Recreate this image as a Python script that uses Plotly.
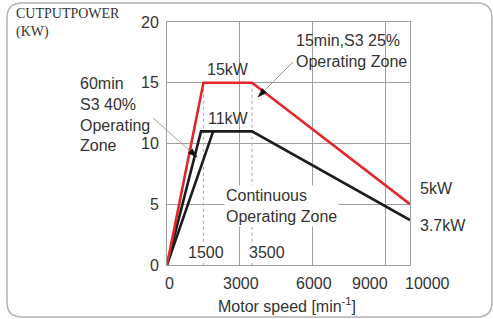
import math
import plotly.graph_objects as go

# ---- data ----
s3_25_speed = [0, 1500, 3500, 10000]
s3_25_power = [0, 15, 15, 5]
cont_speed = [0, 1400, 3500, 10000]
cont_power = [0, 11, 11, 3.7]
s3_40_speed = [0, 1900]
s3_40_power = [0, 11]
ref_speeds = [1500, 3500]
ref_top = 15
y_ticks = [0, 5, 10, 15, 20]
x_grid = [0, 3000, 6000, 9000, 10000]
x_tick_labels = ["0", "3000", "6000", "9000", "10000"]
x_tick_label_px = [169, 241, 314, 370, 427]

FONT = "Liberation Sans, Arial, sans-serif"
TXT = "#333333"
RED = "#e3262b"
BLK = "#1c1c1c"

L, R, T, B = 167, 83, 22, 54
W, H = 493, 319
PW, PH = W - L - R, H - T - B


def px(p):
    return (p - L) / PW


def py(p):
    return (H - B - p) / PH


fig = go.Figure()

for s in ref_speeds:
    fig.add_trace(go.Scatter(x=[s, s], y=[ref_top, 0], mode="lines",
                             line=dict(color="#c4aab0", width=1.2, dash="dot"),
                             hoverinfo="skip", showlegend=False))

fig.add_trace(go.Scatter(x=cont_speed, y=cont_power, mode="lines",
                         line=dict(color=BLK, width=2.6), showlegend=False))
fig.add_trace(go.Scatter(x=s3_40_speed, y=s3_40_power, mode="lines",
                         line=dict(color=BLK, width=2.6), showlegend=False))
fig.add_trace(go.Scatter(x=s3_25_speed, y=s3_25_power, mode="lines",
                         line=dict(color=RED, width=2.6), showlegend=False))

ann = []


def txt(x, y, t, xa="center", bg=None, size=16, family=FONT):
    d = dict(x=px(x), y=py(y), xref="paper", yref="paper", text=t, showarrow=False,
             xanchor=xa, yanchor="middle", align="left",
             font=dict(family=family, size=size, color=TXT))
    if bg:
        d["bgcolor"] = bg
        d["borderpad"] = 1
    ann.append(d)


txt(228, 69, "15kW")
txt(228, 118, "11kW")
txt(78, 114, "60min<br>S3 40%<br>Operating<br>Zone", xa="left")
txt(294, 51, "15min,S3 25%<br>Operating Zone", xa="left")
txt(418, 188, "5kW", xa="left")
txt(418, 225, "3.7kW", xa="left")
txt(224, 206, "Continuous<br>Operating Zone", xa="left", bg="white")
txt(206, 252, "1500", bg="white")
txt(267, 252, "3500", bg="white")
for lab, p in zip(x_tick_labels, x_tick_label_px):
    txt(p, 283, lab)
txt(287, 305, "Motor speed [min<sup>-1</sup>]")
txt(14, 23, "CUTPUTPOWER<br>(KW)", xa="left", size=14,
    family="Liberation Serif, Times New Roman, serif")

shapes = []


def pointer(hx, hy, tx, ty):
    shapes.append(dict(type="line", xref="paper", yref="paper",
                       x0=px(tx), y0=py(ty), x1=px(hx), y1=py(hy),
                       line=dict(color="#8a8a8a", width=0.8)))
    dx, dy = hx - tx, hy - ty
    n = math.hypot(dx, dy)
    ux, uy = dx / n, dy / n
    bx, by = hx - 9 * ux, hy - 9 * uy
    qx, qy = -uy * 3, ux * 3
    p = (f"M {px(hx)},{py(hy)} L {px(bx + qx)},{py(by + qy)} "
         f"L {px(bx - qx)},{py(by - qy)} Z")
    shapes.append(dict(type="path", path=p, xref="paper", yref="paper",
                       fillcolor="#111111", line=dict(color="#111111", width=0.5)))


pointer(197, 157, 153, 118)
pointer(258, 97, 293, 62)

x0, x1, y0, y1, r = 7, 492, 3, 317, 15
path = (f"M {px(x0+r)},{py(y0)} L {px(x1-r)},{py(y0)} Q {px(x1)},{py(y0)} {px(x1)},{py(y0+r)} "
        f"L {px(x1)},{py(y1-r)} Q {px(x1)},{py(y1)} {px(x1-r)},{py(y1)} "
        f"L {px(x0+r)},{py(y1)} Q {px(x0)},{py(y1)} {px(x0)},{py(y1-r)} "
        f"L {px(x0)},{py(y0+r)} Q {px(x0)},{py(y0)} {px(x0+r)},{py(y0)} Z")
shapes.append(dict(type="path", path=path, xref="paper", yref="paper",
                   line=dict(color="#b4b4b4", width=1.5), layer="below"))

fig.update_layout(
    width=W, height=H,
    margin=dict(l=L, r=R, t=T, b=B),
    paper_bgcolor="white", plot_bgcolor="white",
    annotations=ann,
    shapes=shapes,
    xaxis=dict(range=[0, 10000], tickvals=x_grid, showticklabels=False,
               showgrid=True, gridcolor="#a0a0a0", gridwidth=1, zeroline=False,
               showline=True, linecolor="#a0a0a0", linewidth=1, mirror=True, ticks=""),
    yaxis=dict(range=[0, 20], tickvals=y_ticks, ticks="",
               tickfont=dict(family=FONT, size=16, color=TXT), ticklabelstandoff=4,
               showgrid=True, gridcolor="#a0a0a0", gridwidth=1, zeroline=False,
               showline=True, linecolor="#a0a0a0", linewidth=1, mirror=True),
)

fig.write_html("out.html", config={"displayModeBar": False, "staticPlot": True},
               post_script="document.body.style.margin='0';")
